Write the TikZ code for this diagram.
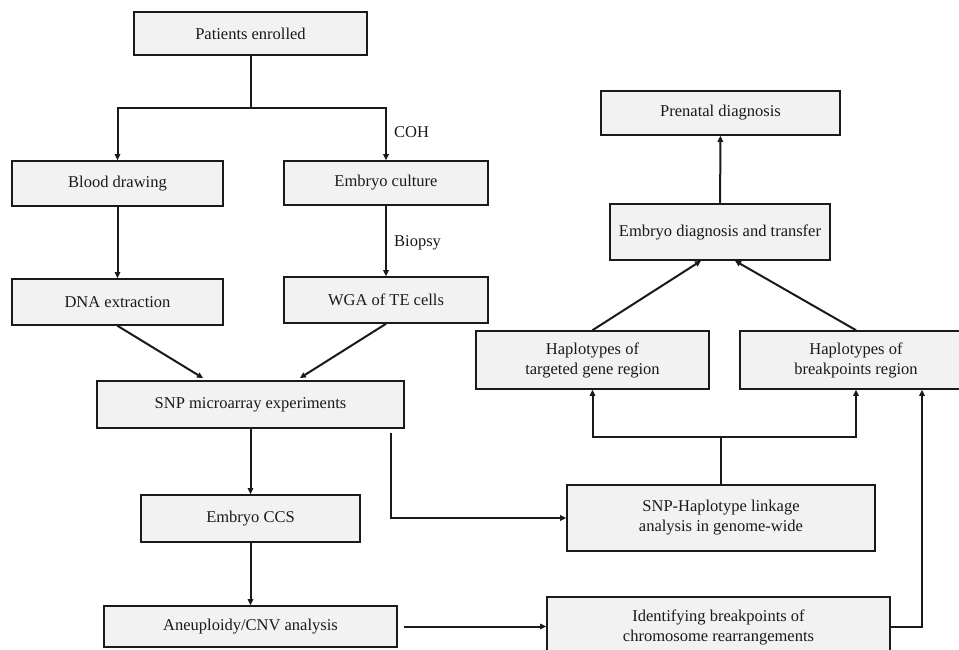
\documentclass[tikz,border=0pt]{standalone}
\usepackage{fontspec}
\setmainfont{Liberation Serif}
\usetikzlibrary{arrows.meta}
\definecolor{boxfill}{HTML}{F2F2F2}
\definecolor{ink}{HTML}{1A1A1A}
\tikzset{
  box/.style={draw=ink, fill=boxfill, line width=1.6pt, inner sep=0pt, align=center,
    text=ink, font=\fontsize{16.5}{20}\selectfont},
  conn/.style={draw=ink, line width=2pt},
  arr/.style={conn, -{Triangle[length=6pt,width=5.5pt]}},
  lbl/.style={anchor=west, text=ink, inner sep=0pt, font=\fontsize{16.5}{20}\selectfont}
}
\begin{document}
\begin{tikzpicture}[x=1pt,y=-1pt]
\useasboundingbox (0,0) rectangle (959,650);
% nodes
\node[box, minimum width=233pt, minimum height=43pt] (pat) at (250.5,33.5) {Patients enrolled};
\node[box, minimum width=211pt, minimum height=45pt] (blood) at (117.5,183.5) {Blood drawing};
\node[box, minimum width=204pt, minimum height=44pt] (embc) at (386,183) {Embryo culture};
\node[box, minimum width=211pt, minimum height=46pt] (dna) at (117.5,302) {DNA extraction};
\node[box, minimum width=204pt, minimum height=46pt] (wga) at (386,300) {WGA of TE cells};
\node[box, minimum width=307pt, minimum height=47pt] (snp) at (250.5,404.5) {SNP microarray experiments};
\node[box, minimum width=219pt, minimum height=47pt] (ccs) at (250.5,518.5) {Embryo CCS};
\node[box, minimum width=293pt, minimum height=41pt] (aneu) at (250.5,626.5) {Aneuploidy/CNV analysis};
\node[box, minimum width=343pt, minimum height=60pt] (ident) at (718.5,627) {Identifying breakpoints of\\chromosome rearrangements};
\node[box, minimum width=308pt, minimum height=66pt] (link) at (721,518) {SNP-Haplotype linkage\\analysis in genome-wide};
\node[box, minimum width=233pt, minimum height=58pt] (hapt) at (592.5,360) {Haplotypes of\\targeted gene region};
\node[box, minimum width=232pt, minimum height=58pt] (hapb) at (856,360) {Haplotypes of\\breakpoints region};
\node[box, minimum width=220pt, minimum height=56pt] (edt) at (720,232) {Embryo diagnosis and transfer};
\node[box, minimum width=239pt, minimum height=44pt] (pre) at (720.5,113) {Prenatal diagnosis};
% labels
\node[lbl] (coh) at (394,132) {COH};
\node[lbl] (bio) at (394,243) {Biopsy};
% connectors
\coordinate (split) at (250.5,108);
\draw[conn] (pat.south) -- (split);
\draw[arr] (split) -| (blood.north);
\draw[arr] (split) -| (embc.north);
\draw[arr] (blood) -- (dna);
\draw[arr] (embc) -- (wga);
\draw[arr, shorten >=4pt] (dna.south) -- ([xshift=-44pt]snp.north);
\draw[arr, shorten >=4pt] (wga.south) -- ([xshift=46pt]snp.north);
\draw[arr] (snp) -- (ccs);
\draw[arr] (ccs) -- (aneu);
\draw[arr] ([xshift=140.5pt,yshift=-4pt]snp.south) |- (link.west);
\draw[arr] ([xshift=6pt]aneu.east) -- (aneu.east -| ident.west);
\coordinate (split2) at (721,437);
\draw[conn] (link.north) -- (split2);
\draw[arr] (split2) -| (hapt.south);
\draw[arr] (split2) -| (hapb.south);
\draw[arr] (ident.east) -| ([xshift=66pt]hapb.south);
\draw[arr] (hapt.north) -- ([xshift=-19pt]edt.south);
\draw[arr] (hapb.north) -- ([xshift=15pt]edt.south);
\draw[arr] (edt) -- (pre);
\end{tikzpicture}
\end{document}
